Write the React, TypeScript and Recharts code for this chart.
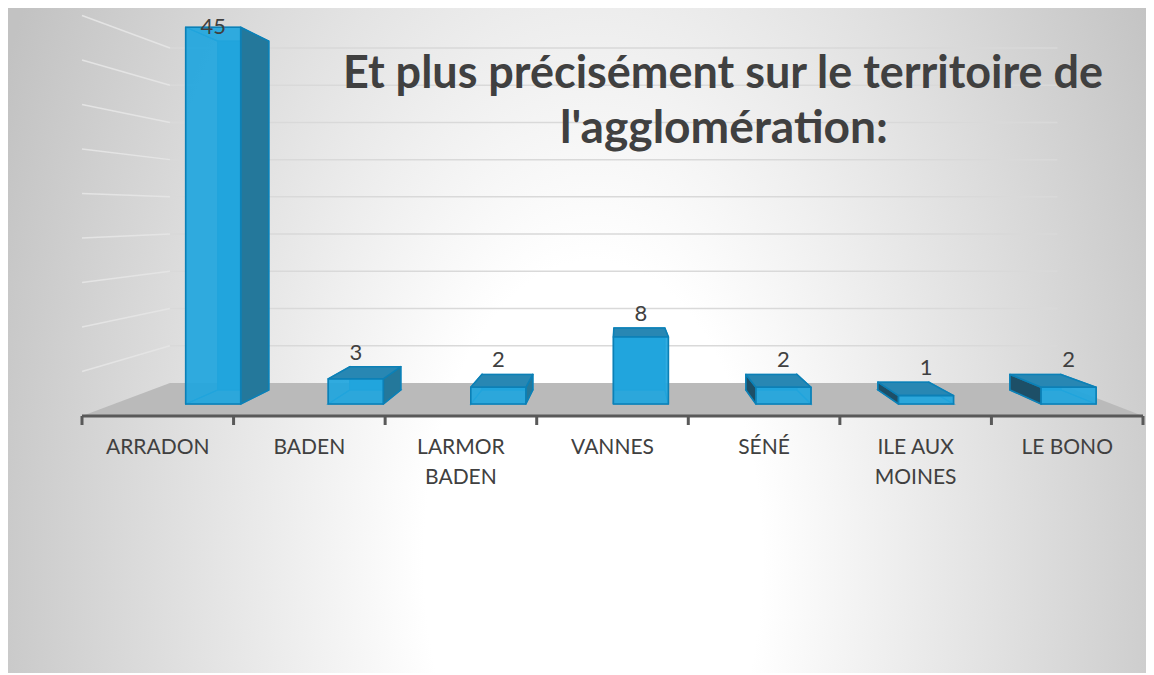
import { BarChart, Bar, XAxis, YAxis, CartesianGrid, LabelList } from 'recharts';

const CATEGORIES = ['ARRADON', 'BADEN', 'LARMOR BADEN', 'VANNES', 'SÉNÉ', 'ILE AUX MOINES', 'LE BONO'];
const VALUES = [45, 3, 2, 8, 2, 1, 2];
const Y_TICKS = [0, 5, 10, 15, 20, 25, 30, 35, 40, 45];
const TITLE_LINES = ['Et plus précisément sur le territoire de', "l'agglomération:"];

const data = CATEGORIES.map((name, i) => ({ name, value: VALUES[i] }));

const W = 1146;
const H = 665;
const X_AXIS_H = 60;
const MARGIN = { top: 7.5, right: 11, bottom: 197, left: 74 };
const PLOT_LEFT = MARGIN.left;
const PLOT_RIGHT = W - MARGIN.right;
const PLOT_BOTTOM = H - MARGIN.bottom - X_AXIS_H;
const BAND = (PLOT_RIGHT - PLOT_LEFT) / CATEGORIES.length;
const Y_MAX = 45;

// fake excel perspective: everything shrinks toward a vanishing point
const VX = 612;
const VY = 206;
const S_FRONT = 0.0594;
const S_BACK = 0.129;
const S_WALL = 0.1635;
const px = (x: number, s: number) => x + s * (VX - x);
const py = (y: number, s: number) => y + s * (VY - y);

const TEXT = '#404040';
const AXIS = '#595959';
const GRID = '#d9d9d9';
const FLOOR = '#bababa';
const FRONT_FILL = '#21a6de';
const BACK_FILL = '#1d9ed6';
const TOP_FILL = '#2887b3';
const RIGHT_FILL = '#24789b';
const LEFT_FILL = '#1d4f67';
const EDGE = '#0c80b6';
const EDGE_SOFT = '#1590c8';
const FONT = 'Lato, "Open Sans", sans-serif';

function poly(pts: number[][]) {
  return pts.map((p) => p.join(',')).join(' ');
}

function Box3D(props: any) {
  const { x, y, width, height } = props;
  if (!width || height == null) return null;
  const x0 = x + width / 2;
  const x1 = x0 + width;
  const y0 = y;
  const y1 = y + height;
  const face = (s: number) => ({ l: px(x0, s), r: px(x1, s), t: py(y0, s), b: py(y1, s) });
  const f = face(S_FRONT);
  const k = face(S_BACK);
  const left = poly([[f.l, f.t], [k.l, k.t], [k.l, k.b], [f.l, f.b]]);
  const right = poly([[f.r, f.t], [k.r, k.t], [k.r, k.b], [f.r, f.b]]);
  const top = poly([[f.l, f.t], [f.r, f.t], [k.r, k.t], [k.l, k.t]]);
  const bottom = poly([[f.l, f.b], [f.r, f.b], [k.r, k.b], [k.l, k.b]]);
  const showLeft = k.l < f.l;
  const showRight = k.r > f.r;
  const showTop = k.t < f.t;
  const hidden = { fill: 'none', stroke: EDGE_SOFT, strokeWidth: 1.2 };
  const shown = { stroke: EDGE, strokeWidth: 1.6, strokeLinejoin: 'round' as const };
  return (
    <g>
      <rect x={k.l} y={k.t} width={k.r - k.l} height={k.b - k.t} fill={BACK_FILL} stroke={EDGE_SOFT} strokeWidth={1.2} />
      {!showLeft && <polygon points={left} {...hidden} />}
      {!showRight && <polygon points={right} {...hidden} />}
      {!showTop && <polygon points={top} {...hidden} />}
      <polygon points={bottom} {...hidden} />
      {showLeft && <polygon points={left} fill={LEFT_FILL} {...shown} />}
      {showRight && <polygon points={right} fill={RIGHT_FILL} {...shown} />}
      {showTop && <polygon points={top} fill={TOP_FILL} {...shown} />}
      <rect x={f.l} y={f.t} width={f.r - f.l} height={f.b - f.t} fill={FRONT_FILL} fillOpacity={0.93} {...shown} />
    </g>
  );
}

function renderValueLabel(props: any) {
  const vb = props.viewBox && props.viewBox.width != null ? props.viewBox : props;
  const { x, y, width } = vb;
  const x0 = x + width / 2;
  const cx = (px(x0, S_FRONT) + px(x0 + width, S_FRONT)) / 2;
  return (
    <text x={cx} y={py(y, S_BACK) - 7} textAnchor="middle" fill={TEXT} fontSize={22} fontFamily={FONT}>
      {props.value}
    </text>
  );
}

function wrapWords(s: string, max: number) {
  const lines: string[] = [];
  let cur = '';
  for (const w of s.split(' ')) {
    if (cur && (cur + ' ' + w).length > max) {
      lines.push(cur);
      cur = w;
    } else {
      cur = cur ? cur + ' ' + w : w;
    }
  }
  if (cur) lines.push(cur);
  return lines;
}

function CategoryTick(props: any) {
  const { x, payload, index } = props;
  const lines = wrapWords(String(payload.value), 8);
  const tick = (tx: number) => (
    <line x1={tx} y1={PLOT_BOTTOM} x2={tx} y2={PLOT_BOTTOM + 9} stroke={AXIS} strokeWidth={3} />
  );
  return (
    <g>
      {tick(x - BAND / 2)}
      {index === CATEGORIES.length - 1 && tick(x + BAND / 2)}
      <text x={x} y={PLOT_BOTTOM + 38} textAnchor="middle" fill={TEXT} fontSize={21} fontFamily={FONT}>
        {lines.map((l, i) => (
          <tspan key={i} x={x} dy={i === 0 ? 0 : 30}>
            {l}
          </tspan>
        ))}
      </text>
    </g>
  );
}

function wallLine(props: any) {
  const { y1, index } = props;
  const bx1 = px(PLOT_LEFT, S_WALL);
  const bx2 = px(PLOT_RIGHT, S_WALL);
  const by = py(y1, S_WALL);
  if (Math.abs(y1 - PLOT_BOTTOM) < 0.5) {
    return (
      <polygon
        key={`floor-${index}`}
        points={poly([[PLOT_LEFT, y1], [bx1, by], [bx2, by], [PLOT_RIGHT, y1]])}
        fill={FLOOR}
      />
    );
  }
  return (
    <g key={`wall-${index}`}>
      <line x1={bx1} y1={by} x2={bx2} y2={by} stroke={GRID} strokeWidth={1.5} />
      <line x1={PLOT_LEFT} y1={y1} x2={bx1} y2={by} stroke="#e4e4e4" strokeWidth={1.5} />
    </g>
  );
}

function gridRows({ yAxis, offset }: any) {
  return Y_TICKS.map((v) =>
    yAxis && typeof yAxis.scale === 'function'
      ? yAxis.scale(v)
      : offset.top + offset.height * (1 - v / Y_MAX),
  );
}

export default function App() {
  return (
    <div
      style={{
        position: 'relative',
        width: W,
        height: H,
        outline: '1px solid #cfcfcf',
        background:
          'radial-gradient(ellipse 650px 1150px at 585px 552px, #ffffff 0%, #ffffff 26%, #c2c2c2 100%)',
      }}
    >
      <BarChart width={W} height={H} data={data} margin={MARGIN}>
        <CartesianGrid vertical={false} horizontal={wallLine} horizontalCoordinatesGenerator={gridRows} />
        <XAxis
          dataKey="name"
          height={X_AXIS_H}
          interval={0}
          tickLine={false}
          axisLine={{ stroke: AXIS, strokeWidth: 3 }}
          tick={<CategoryTick />}
        />
        <YAxis width={0} domain={[0, Y_MAX]} ticks={Y_TICKS} tick={false} axisLine={false} tickLine={false} />
        <Bar dataKey="value" barSize={58.5} shape={(p: any) => <Box3D {...p} />} isAnimationActive={false}>
          <LabelList dataKey="value" content={renderValueLabel} />
        </Bar>
      </BarChart>
      <svg
        width={W}
        height={H}
        style={{ position: 'absolute', left: 0, top: 0, pointerEvents: 'none' }}
      >
        <text x={715} y={80} textAnchor="middle" fill={TEXT} fontSize={45} fontWeight={700} fontFamily={FONT}
          textLength={760} lengthAdjust="spacingAndGlyphs">
          {TITLE_LINES[0]}
        </text>
        <text x={716} y={135} textAnchor="middle" fill={TEXT} fontSize={45} fontWeight={700} fontFamily={FONT}
          textLength={328} lengthAdjust="spacingAndGlyphs">
          {TITLE_LINES[1]}
        </text>
      </svg>
    </div>
  );
}
